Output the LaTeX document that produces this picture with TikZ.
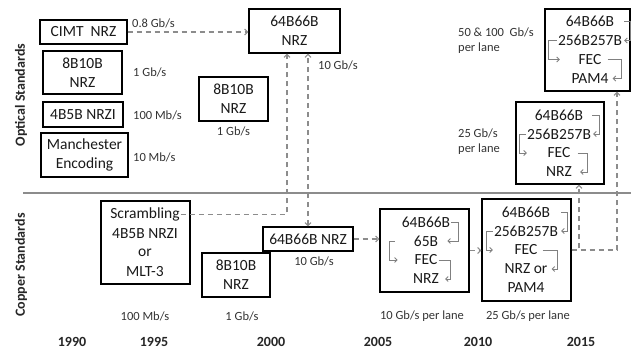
\documentclass[tikz,border=0pt]{standalone}
\usepackage{fontspec}
\setmainfont{Carlito}
\usetikzlibrary{arrows.meta,positioning}

\begin{document}
\begin{tikzpicture}[x=1pt, y=-1pt,
  >={Straight Barb[length=3pt,width=6pt]},
  st/.style={draw, line width=1.3pt, inner sep=0pt, align=center,
    text=black!90, font=\fontsize{15.5}{19}\selectfont},
  ln/.style={inner sep=1pt, text=black!90, font=\fontsize{15.5}{19}\selectfont},
  lb/.style={inner sep=0pt, align=left, text=black!80,
    font=\fontsize{12.5}{15}\selectfont},
  yr/.style={inner sep=0pt, text=black!85, font=\fontsize{14}{16}\selectfont\bfseries},
  dl/.style={draw=black!45, line width=1.1pt, dash pattern=on 5pt off 4pt, ->},
  bk/.style={draw=black!50, line width=0.9pt,
    -{Straight Barb[length=2.5pt,width=5pt]}}]
\useasboundingbox (0,0) rectangle (631,350);

% optical standards
\node[st, minimum width=87, minimum height=24] (cimt) at (83.5,32) {CIMT\ \ NRZ};
\node[st, minimum width=79, minimum height=43] (ob8) at (82.5,72.5) {8B10B\\NRZ};
\node[st, minimum width=80, minimum height=25] (ob4) at (83,114.5) {4B5B NRZI};
\node[st, minimum width=87, minimum height=44] (oman) at (84.5,155) {Manchester\\Encoding};
\node[st, minimum width=69, minimum height=44] (om8) at (233.5,99) {8B10B\\NRZ};
\node[st, minimum width=91, minimum height=44] (o64) at (294.5,31) {64B66B\\NRZ};

\node[lb, anchor=west] (rcimt) at (132,23) {0.8 Gb/s};
\node[lb, anchor=west] (rob8) at (133,72) {1 Gb/s};
\node[lb, anchor=west] (rob4) at (133,115) {100 Mb/s};
\node[lb, anchor=west] (roman) at (133,157) {10 Mb/s};
\node[lb, below=5pt of om8] (rom8) {1 Gb/s};
\node[lb, anchor=west] (ro64) at (318,65) {10 Gb/s};

\node[st, minimum width=88, minimum height=82] (o25) at (560,143) {};
\foreach \t [count=\i] in {64B66B,256B257B,FEC,NRZ}
  \node[ln] (q\i) at (559,96+19*\i) {\t};
\node[lb, anchor=west] (ro25) at (458,141.5) {25 Gb/s\\per lane};

\node[st, minimum width=85, minimum height=82] (o50) at (587.5,50) {};
\foreach \t [count=\i] in {64B66B,256B257B,FEC,PAM4}
  \node[ln] (p\i) at (590,2.5+19*\i) {\t};
\node[lb, anchor=west] (ro50) at (458,40.5) {50 \& 100\ \ Gb/s\\per lane};

% copper standards
\node[st, minimum width=89, minimum height=83] (csc) at (145.5,242.5) {};
\foreach \t [count=\i] in {Scrambling,4B5B NRZI,or,MLT-3}
  \node[ln] (sc\i) at (145,195+19.2*\i) {\t};
\node[st, minimum width=68, minimum height=44] (c8) at (236,275) {8B10B\\NRZ};
\node[st, minimum width=90, minimum height=24] (c64) at (308,239) {64B66B NRZ};
\node[lb, below=5pt of c64, xshift=6pt] (rc64) {10 Gb/s};

\node[st, minimum width=89, minimum height=83] (b05) at (424.5,250.5) {};
\foreach \t [count=\i] in {64B66B,65B,FEC,NRZ}
  \node[ln] (s\i) at (426,203+19*\i) {\t};
\node[st, minimum width=89, minimum height=102] (b10) at (526.5,250) {};
\foreach \t [count=\i] in {64B66B,256B257B,FEC,NRZ or,PAM4}
  \node[ln] (r\i) at (526,193+19*\i) {\t};

% little steps inside the boxes
\draw[bk] ([xshift=9]p1.east) -- ++(6,0) |- ([xshift=1]p2.east);
\draw[bk] (p2.west) -- ++(-8,0) |- ([xshift=3]p2.west |- p3);
\draw[bk] ([xshift=5]p3.east) -- ++(14,0) |- ([xshift=3]p4.east);
\draw[bk] ([xshift=8]q1.east) -- ++(7,0) |- ([xshift=1]q2.east);
\draw[bk] (q2.west) -- ++(-6,0) |- ([xshift=1]q2.west |- q3);
\draw[bk] ([xshift=6]q3.east) -- ++(10,0) |- ([xshift=7]q4.east);
\draw[bk] ([xshift=10]r1.east) -- ++(6,0) |- ([xshift=2]r2.east);
\draw[bk] (r2.west) -- ++(-6,0) |- (r2.west |- r3);
\draw[bk] ([xshift=4]r3.east) -- ++(15,0) |- ([xshift=3]r4.east);
\draw[bk] (s1.east) -- ++(7,0) |- ([xshift=8]s2.east);
\draw[bk] ([xshift=-18]s2.west) -- ++(-5,0) |- ([xshift=-15]s2.west |- s3);
\draw[bk] (s3.east) -- ++(12,0) |- ([xshift=5]s4.east);

% links
\draw[dl] (cimt.east) -- (cimt.east -| o64.west);
\draw[dl] (sc1.east) -| ([xshift=-7.5]o64.south);
\draw[dl, <->] (c64.north) -- (c64.north |- o64.south);
\draw[dl] (c64.east) -- (c64.east -| b05.west);
\draw[dl] (b05.east) -- (b05.east -| b10.west);
\draw[dl] (b10.east) -| ([xshift=19]o25.south);
\draw[dl] (b10.east) -| ([xshift=29.5]o50.south);

% separator, side titles, time axis
\coordinate (sepl) at (23,193);
\coordinate (sepr) at (631,193);
\draw[black!45, line width=1.4pt] (sepl) -- (sepr);
\node[yr, rotate=90] (topt) at (21,95) {Optical Standards};
\node[yr, rotate=90] (tcop) at (21,265) {Copper Standards};

\node[lb] (rcsc) at (145,316) {100 Mb/s};
\node[lb] (rc8) at (242,316) {1 Gb/s};
\node[lb] (rb05) at (422,316) {10 Gb/s per lane};
\node[lb] (rb10) at (528,316) {25 Gb/s per lane};
\foreach \y/\x in {1990/72,1995/154,2000/271,2005/378,2010/478,2015/581}
  \node[yr] (y\y) at (\x,342) {\y};
\end{tikzpicture}
\end{document}
